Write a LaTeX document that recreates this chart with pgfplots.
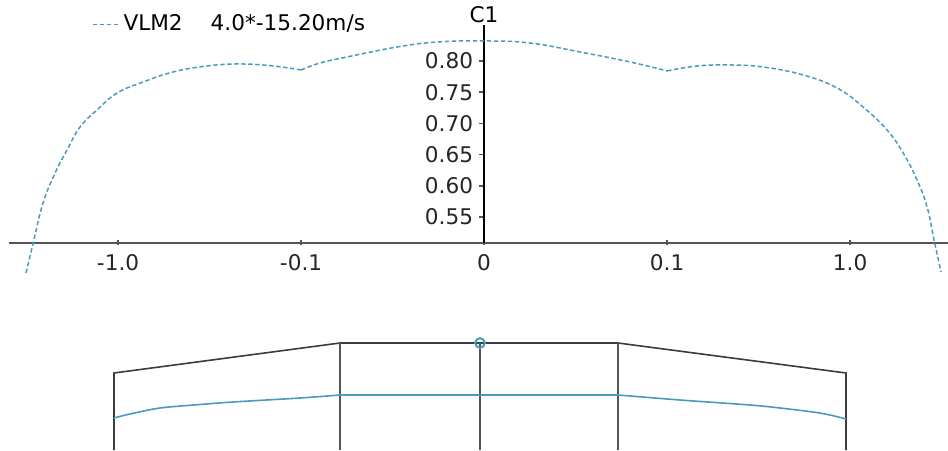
\documentclass[border=0pt]{standalone}
\usepackage{fontspec}
\setmainfont{DejaVu Sans}
\usepackage{pgfplots}
\pgfplotsset{compat=1.18}
\definecolor{cblue}{RGB}{74,154,192}
\definecolor{axgray}{RGB}{85,85,85}
\definecolor{outl}{RGB}{60,60,60}
\pgfplotsset{curve/.style={cblue, no marks, line width=0.75pt, dash pattern=on 2.2pt off 1.3pt, smooth, tension=0.7}}
\begin{document}
\begin{tikzpicture}
\path[use as bounding box] (0,0) rectangle (474pt,225pt);
% ---- top chart ----
\begin{axis}[
  x=91.5pt, y=312pt,
  anchor=south west, at={(4.5pt,103.5pt)},
  xmin=-2.596, xmax=2.536, ymin=0.5083, ymax=0.857,
  axis x line*=bottom, axis y line*=middle,
  clip=false,
  x axis line style={axgray, line width=0.9pt},
  y axis line style={black, line width=0.9pt},
  xtick={-2,-1,0,1,2},
  xticklabels={-1.0,-0.1,0,0.1,1.0},
  ytick={0.55,0.60,0.65,0.70,0.75,0.80},
  yticklabels={0.55,0.60,0.65,0.70,0.75,0.80},
  xtick align=center, ytick align=outside,
  major tick length=2.5pt,
  tick style={axgray, line width=0.8pt},
  tick label style={font=\fontsize{10.8}{12}\selectfont, text=black!85},
  xticklabel style={yshift=-1pt},
  yticklabel style={xshift=0.5pt},
  legend style={draw=none, fill=none, at={(axis description cs:0.088,1.005)}, anchor=west,
    font=\fontsize{10.8}{12}\selectfont, inner sep=0pt},
  legend image code/.code={\draw[#1] (0pt,0pt) -- (13pt,0pt);},
]
\addplot[curve] coordinates {
(-2.503,0.4602) (-2.464,0.5083) (-2.410,0.5724) (-2.344,0.6205) (-2.279,0.6574)
(-2.208,0.6942) (-2.115,0.7215) (-2.005,0.7487) (-1.863,0.7663) (-1.699,0.7824)
(-1.514,0.7920) (-1.333,0.7952) (-1.153,0.7920) (-1.000,0.7856)
};
\addlegendentry{VLM2\hspace{14pt}4.0*-15.20m/s}
\addplot[curve] coordinates {
(-1.000,0.7856) (-0.896,0.7968)
(-0.749,0.8064) (-0.475,0.8224) (-0.257,0.8304) (0.000,0.8321) (0.251,0.8288)
(0.525,0.8144) (0.798,0.7984) (1.000,0.7840)
};
\addplot[curve] coordinates {
(1.000,0.7840) (1.164,0.7920) (1.344,0.7936)
(1.525,0.7904) (1.743,0.7776) (1.929,0.7567) (2.071,0.7263) (2.202,0.6894)
(2.290,0.6526) (2.366,0.6093) (2.421,0.5660) (2.459,0.5131) (2.497,0.4618)
};
\node[anchor=south, inner sep=1pt, font=\fontsize{10.8}{12}\selectfont] at (axis cs:0,0.857) {C1};
\end{axis}
% ---- planform ----
\begin{axis}[
  hide axis, x=0.5pt, y=0.5pt,
  anchor=south west, at={(0,0)},
  xmin=0, xmax=948, ymin=0, ymax=450,
  clip=false,
]
\addplot[outl, line width=0.8pt] coordinates {(114,0) (114,77) (340,107) (618,107) (846,77) (846,0)};
\addplot[axgray, line width=0.8pt] coordinates {(340,0) (340,107)};
\addplot[axgray, line width=0.8pt] coordinates {(618,0) (618,107)};
\addplot[axgray, line width=0.8pt] coordinates {(480,0) (480,107)};
\addplot[cblue, line width=0.8pt, smooth] coordinates {(114,32) (130,36) (160,42) (200,45.5) (233,48) (300,52) (340,55)};
\addplot[cblue, line width=0.8pt] coordinates {(340,55) (618,55)};
\addplot[cblue, line width=0.8pt, smooth] coordinates {(618,55) (680,50) (750,45) (780,42) (813,38) (830,35) (846,31)};
\addplot[cblue, line width=1pt, only marks, mark=o, mark size=2.4pt] coordinates {(480,107)};
\end{axis}
\end{tikzpicture}
\end{document}
